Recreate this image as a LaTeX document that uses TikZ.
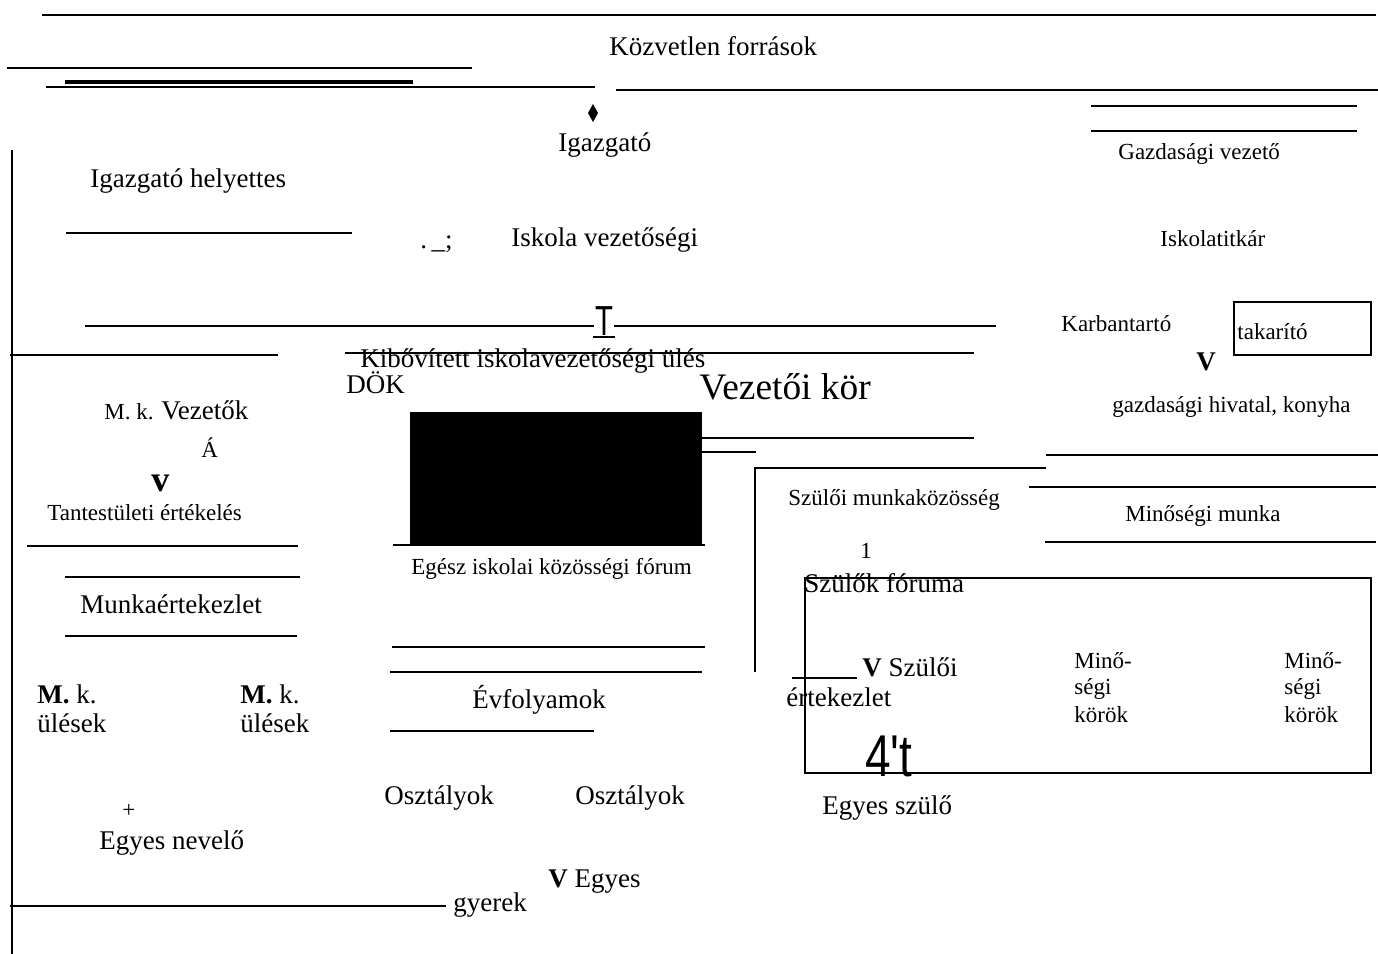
\documentclass[tikz,border=0pt]{standalone}
\usepackage{fontspec}
\setmainfont{Liberation Serif}
\newfontfamily\narrowsans{Liberation Sans}
\usetikzlibrary{positioning}

\tikzset{
  lbl/.style={anchor=base west, inner sep=0pt, font=\fontsize{13.5}{16}\selectfont},
  lblsmall/.style={anchor=base west, inner sep=0pt, font=\fontsize{11.5}{14}\selectfont},
  rule/.style={line width=1.2pt},
  frame/.style={line width=0.9pt},
}

\begin{document}
\begin{tikzpicture}[x=0.5pt, y=-0.5pt]
    \useasboundingbox (0,0) rectangle (1378,954);

    % Vonalak a felső részen
    \draw[rule] (42,15) -- (1376,15);
    \draw[rule] (7,68) -- (472,68);
    \draw[rule, line width=1.6pt] (65,82) -- (413,82);
    \draw[rule] (46,87) -- (595,87);
    \draw[rule] (616,90) -- (1378,90);
    \draw[rule] (1091,106) -- (1357,106);
    \draw[rule] (1091,131) -- (1357,131);
    \fill (593,104) -- (598,113) -- (593,122) -- (588,113) -- cycle;

    % Bal oldali függőleges vonal
    \draw[rule] (12,150) -- (12,954);

    \node[lbl] (forras) at (609,55) {Közvetlen források};
    \node[lbl] (igazg) at (558,151) {Igazgató};
    \node[lblsmall] (gazdvez) at (1118,159) {Gazdasági vezető};
    \node[lbl] (helyettes) at (90,187) {Igazgató helyettes};

    % Iskola vezetőségi sor
    \draw[rule] (66,233) -- (352,233);
    \node[lbl] (jel) at (420,248) {.\,\_;};
    \node[lbl] (vezetoseg) at (511,246) {Iskola vezetőségi};
    \node[lblsmall] (titkar) at (1160,246) {Iskolatitkár};

    % T jel a vízszintes vonalon
    \draw[rule] (85,326) -- (594,326);
    \draw[rule] (614,326) -- (996,326);
    \node[anchor=base west, inner sep=0pt] (tjel) at (595,335)
        {\scalebox{0.7}[1]{\narrowsans\fontsize{21}{22}\selectfont T}};
    \draw[rule] (593,337) -- (615,337);

    \node[lblsmall] (karban) at (1061,331) {Karbantartó};
    \draw[frame] (1234,302) rectangle (1371,355);
    \node[lblsmall] (takarito) at (1237,339) {takarító};
    \node[lbl, font=\fontsize{13.5}{16}\selectfont\bfseries] (vjel1) at (1196,370) {V};

    % Kibővített ülés és Vezetői kör
    \node[lbl] (kibovitett) at (360,367) {Kibővített iskolavezetőségi ülés};
    \draw[rule] (10,355) -- (278,355);
    \draw[rule] (345,353) -- (974,353);
    \node[lbl] (dok) at (346,393) {DÖK};
    \node[lbl, font=\fontsize{18.7}{20}\selectfont] (vezkor) at (699,399) {Vezetői kör};
    \node[lblsmall] (hivatal) at (1112,412) {gazdasági hivatal, konyha};

    \fill (410,412) rectangle (702,545);
    \draw[rule] (702,438) -- (974,438);
    \draw[rule] (702,452) -- (756,452);
    \draw[rule] (393,545) -- (705,545);

    % Szülői oldal
    \draw[rule] (755,672) -- (755,468) -- (1046,468);
    \draw[rule] (1046,455) -- (1378,455);
    \draw[rule] (1029,487) -- (1376,487);
    \draw[rule] (1045,542) -- (1376,542);
    \node[lblsmall] (szmk) at (788,505) {Szülői munkaközösség};
    \node[lblsmall] (minmunka) at (1125,521) {Minőségi munka};
    \node[lblsmall] (egy) at (860,558) {1};

    % Bal oldali oszlop
    \node[lblsmall] (mkvez) at (104,419) {M. k. {\fontsize{13.5}{16}\selectfont Vezetők}};
    \node[lblsmall] (aacc) at (201,457) {Á};
    \node[lbl, font=\fontsize{18}{20}\selectfont\bfseries] (vkis) at (151,491) {v};
    \node[lblsmall] (tantest) at (47,520) {Tantestületi értékelés};
    \draw[rule] (27,546) -- (298,546);
    \draw[rule] (65,577) -- (300,577);
    \node[lbl] (munkaert) at (80,613) {Munkaértekezlet};
    \draw[rule] (65,636) -- (297,636);

    \node[lbl] (mk1) at (37,703) {\textbf{M.} k.};
    \node[lbl] (ules1) at (37,732) {ülések};
    \node[lbl] (mk2) at (240,703) {\textbf{M.} k.};
    \node[lbl] (ules2) at (240,732) {ülések};

    \node[lblsmall] (plusz) at (122,817) {+};
    \node[lbl] (nevelo) at (99,849) {Egyes nevelő};
    \draw[rule] (10,906) -- (446,906);

    % Középső oszlop
    \node[lblsmall] (forum) at (411,574) {Egész iskolai közösségi fórum};
    \draw[rule] (392,647) -- (705,647);
    \draw[rule] (390,672) -- (702,672);
    \node[lbl] (evf) at (472,708) {Évfolyamok};
    \draw[rule] (390,731) -- (594,731);
    \node[lbl] (oszt1) at (384,804) {Osztályok};
    \node[lbl] (oszt2) at (575,804) {Osztályok};
    \node[lbl] (egyesgy) at (548,887) {\textbf{V} Egyes};
    \node[lbl] (gyerek) at (453,911) {gyerek};

    % Szülők fóruma doboz
    \node[lbl] (szforum) at (804,592) {Szülők fóruma};
    \draw[frame] (805,578) rectangle (1371,773);
    \draw[line width=0.6pt] (792,678) -- (857,678);
    \node[lbl] (szert) at (862,676) {\textbf{V} Szülői};
    \node[lbl] (ertekezlet) at (786,706) {értekezlet};
    \foreach \px/\nm in {1074/mkor1, 1284/mkor2} {
        \node[lblsmall] (\nm a) at (\px,668) {Minő-};
        \node[lblsmall] (\nm b) at (\px,694) {ségi};
        \node[lblsmall] (\nm c) at (\px,722) {körök};
    }
    \node[anchor=base west, inner sep=0pt] (negyt) at (865,776)
        {\scalebox{0.78}[1]{\narrowsans\fontsize{29.5}{31}\selectfont 4't}};
    \node[lbl] (egyessz) at (822,814) {Egyes szülő};
\end{tikzpicture}
\end{document}
